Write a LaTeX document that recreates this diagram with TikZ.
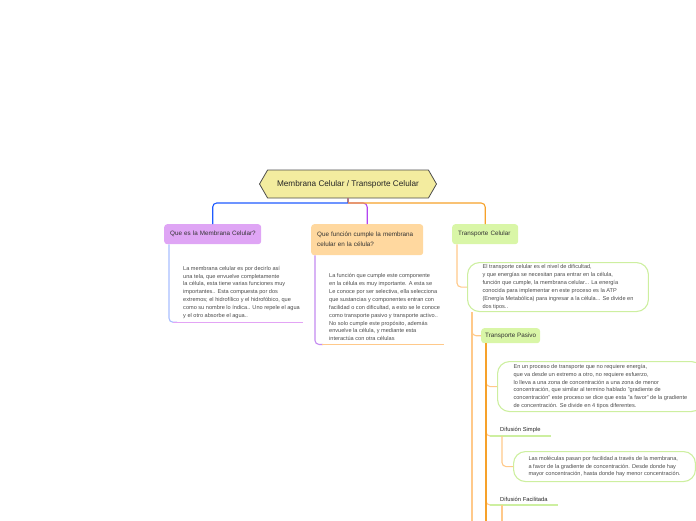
\documentclass[tikz,border=0pt]{standalone}
\usepackage{fontspec}
\setmainfont{Liberation Sans}
\usepackage{xcolor}
\usepackage{tikz}
\usetikzlibrary{positioning, calc, shapes.symbols}

\definecolor{sand}{HTML}{F3EC9F}
\definecolor{lilac}{HTML}{DFA5F5}
\definecolor{peach}{HTML}{FFD89F}
\definecolor{leaf}{HTML}{D9F6A7}
\definecolor{leafline}{HTML}{CDEFA0}
\definecolor{royal}{HTML}{1F5BFF}
\definecolor{violet}{HTML}{B345F0}
\definecolor{amber}{HTML}{F6A12A}
\definecolor{stub}{HTML}{B07A88}
\definecolor{paleblue}{HTML}{A9BEFF}
\definecolor{palelilac}{HTML}{E3A4F5}
\definecolor{paleviolet}{HTML}{C38AF0}
\definecolor{paleamber}{HTML}{FFC98A}

\begin{document}
\begin{tikzpicture}[x=1pt, y=-1pt,
  topic/.style={rounded corners=3pt, anchor=north west, align=left,
                font=\fontsize{6.3}{10}\selectfont, text=black!80, inner xsep=6pt},
  note/.style={anchor=north west, align=left, inner xsep=14pt,
               font=\fontsize{5.6}{7.9}\selectfont, text=black!70},
  bubble/.style={note, draw=leafline, line width=1.1pt, rounded corners=12pt,
                 inner xsep=15pt, inner ysep=0pt},
  label/.style={anchor=south west, inner xsep=10pt, inner ysep=3pt,
                font=\fontsize{5.8}{7}\selectfont, text=black!85},
  link/.style={line width=1.1pt, rounded corners=4pt}
]
  \useasboundingbox (0,0) rectangle (696,520);
  \coordinate (cut) at (0,522);

  % central topic
  \node[signal, signal to=west and east, signal pointer angle=120,
        draw=black!70, fill=sand, line width=0.8pt, minimum width=177pt,
        minimum height=28pt, font=\fontsize{8.2}{10}\selectfont, text=black!85]
        (root) at (348,184) {Membrana Celular / Transporte Celular};
  \coordinate (hub) at (348,203);

  % main topics
  \node[topic, fill=lilac, text width=85pt, minimum height=20pt] (q1) at (164,224)
    {\mbox{Que es la Membrana Celular?}};
  \node[topic, fill=peach, text width=100pt, minimum height=31pt] (q2) at (311,224)
    {Que función cumple la membrana\\celular en la célula?};
  \node[topic, fill=leaf, text width=54pt, minimum height=20pt] (q3) at (452,224)
    {\mbox{Transporte Celular}};

  \draw[link, stub] (root) -- (hub);
  \draw[link, royal] (hub) -| (q1);
  \draw[link, violet] (hub) -| (q2);
  \draw[link, amber] (hub) -| (q3);

  % notes
  \node[note] (n1) at (169,262.5)
    {La membrana celular es por decirlo así\\
     una tela, que envuelve completamente\\
     la célula, esta tiene varias funciones muy\\
     importantes.. Esta compuesta por dos\\
     extremos; el hidrofílico y el hidrofóbico, que\\
     como su nombre lo índica.. Uno repele el agua\\
     y el otro absorbe el agua..};
  \draw[link, paleblue] (q1.south -| n1.west) |- ($(n1.south west)+(8,0)$);
  \draw[link, palelilac] ($(n1.south west)+(4,0)$) -- ++(130,0);

  \node[note] (n2) at (315,270)
    {La función que cumple este componente\\
     en la célula es muy importante. A esta se\\
     Le conoce por ser selectiva, ella selecciona\\
     que sustancias y componentes entran con\\
     facilidad o con dificultad, a esto se le conoce\\
     como transporte pasivo y transporte activo..\\
     No solo cumple este propósito, además\\
     envuelve la célula, y mediante esta\\
     interactúa con otra células};
  \draw[link, paleviolet] (q2.south -| n2.west) |- ($(n2.south west)+(8,0)$);
  \draw[link, paleamber] ($(n2.south west)+(7,0)$) -- ++(122,0);

  \node[bubble, minimum height=49pt] (b3) at (467,262)
    {El transporte celular es el nivel de dificultad,\\
     y que energías se necesitan para entrar en la célula,\\
     función que cumple, la membrana celular... La energía\\
     conocida para implementar en este proceso es la ATP\\
     (Energía Metabólica) para ingresar a la célula... Se divide en\\
     dos tipos..};
  \draw[link, paleamber] ($(q3.south west)+(5,0)$) |- (b3.west);

  % transporte pasivo
  \node[topic, fill=leaf, minimum height=15pt, inner xsep=4pt] (tp) at (481,328)
    {Transporte Pasivo};
  \coordinate (trunk1) at ($(b3.south west)+(5,0)$);
  \coordinate (trunk2) at ($(tp.south west)+(5,0)$);
  \draw[link, paleamber] (trunk1) -- (trunk1 |- cut);
  \draw[link, paleamber] (trunk1) |- (tp.west);

  \node[bubble, minimum height=50pt, inner xsep=16pt] (b4) at (497,361)
    {En un proceso de transporte que no requiere energía,\\
     que va desde un extremo a otro, no requiere esfuerzo,\\
     lo lleva a una zona de concentración a una zona de menor\\
     concentración, que similar al termino hablado "gradiente de\\
     concentración" este proceso se dice que esta "a favor" de la gradiente\\
     de concentración. Se divide en 4 tipos diferentes.};

  \node[label] (ds) at (490,436) {Difusión Simple};
  \node[bubble, minimum height=30pt] (b5) at (513,451)
    {Las moléculas pasan por facilidad a través de la membrana,\\
     a favor de la gradiente de concentración. Desde donde hay\\
     mayor concentración, hasta donde hay menor concentración.};
  \node[label] (df) at (490,505) {Difusión Facilitada};

  \draw[link, paleamber] (trunk2) |- (b4.west);
  \draw[link, paleamber] (trunk2) |- (ds.south west);
  \draw[link, paleamber] (trunk2) |- (df.south west);
  \draw[link, amber] (trunk2) -- (trunk2 |- cut);

  \draw[line width=1.1pt, leafline] (ds.south west) -- (ds.south east);
  \draw[line width=1.1pt, leafline] (df.south west) -- (df.south east);
  \draw[link, paleamber] ($(ds.south west)+(12,0)$) |- (b5.west);
  \draw[link, paleamber] ($(df.south west)+(12,0)$) -- ($(df.south west |- cut)+(12,0)$);
\end{tikzpicture}
\end{document}
